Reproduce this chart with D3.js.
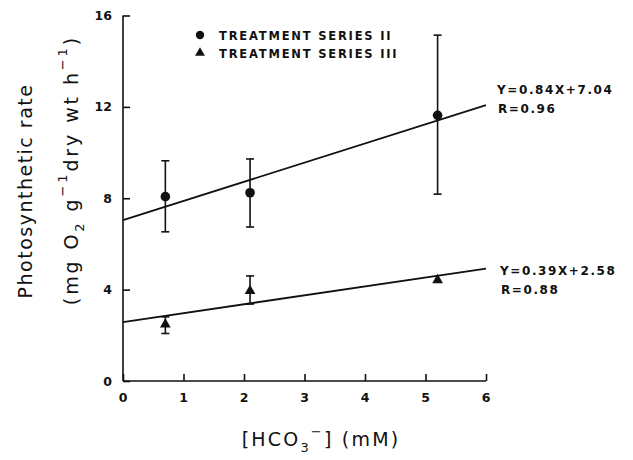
<!DOCTYPE html>
<html><head><meta charset="utf-8">
<script src="https://cdn.jsdelivr.net/npm/d3@7"></script>
<style>
body{margin:0;background:#fff;}
svg text{font-family:"DejaVu Sans","Liberation Sans",Arial,sans-serif;fill:#111;}
</style></head>
<body><svg id="c" width="633" height="460"></svg>
<script>
// Data
const xTicks = [0,1,2,3,4,5,6];
const yTicks = [0,4,8,12,16];
const seriesNames = ["TREATMENT SERIES II","TREATMENT SERIES III"];
const x2 = [0.7, 2.1, 5.2];
const y2 = [8.07, 8.24, 11.63];
const lo2 = [6.53, 6.74, 8.18];
const hi2 = [9.64, 9.72, 15.14];
const x3 = [0.7, 2.1, 5.2];
const y3 = [2.48, 3.94, 4.42];
const lo3 = [2.08, 3.37, 4.42];
const hi3 = [2.81, 4.6, 4.42];
const fitSlope = [0.84, 0.39];
const fitIntercept = [7.04, 2.58];
const fitLabels = [["Y=0.84X+7.04","R=0.96"],["Y=0.39X+2.58","R=0.88"]];

const svg = d3.select("#c");
const x = d3.scaleLinear().domain([0,6]).range([123,486]);
const y = d3.scaleLinear().domain([0,16]).range([381,15.5]);

// axes (ticks inward)
const gx = svg.append("g").attr("transform",`translate(0,${y(0)})`)
  .call(d3.axisTop(x).tickValues(xTicks).tickSize(7).tickFormat(""));
const gy = svg.append("g").attr("transform",`translate(${x(0)},0)`)
  .call(d3.axisRight(y).tickValues(yTicks).tickSize(7).tickFormat(""));
[gx,gy].forEach(g=>{g.selectAll("path,line").attr("stroke","#111").attr("stroke-width",1.6);});
gx.select(".domain").attr("d",`M${x(0)},0H${x(6)}`);
gy.select(".domain").attr("d",`M0,${y(0)}V${y(16)}`);

svg.append("g").selectAll("text").data(xTicks).join("text")
  .attr("x",d=>x(d)).attr("y",402).attr("text-anchor","middle")
  .attr("font-size",12.5).attr("font-weight","bold").text(d=>d);
svg.append("g").selectAll("text").data(yTicks).join("text")
  .attr("x",112).attr("y",d=>y(d)+4.5).attr("text-anchor","end")
  .attr("font-size",12.5).attr("font-weight","bold").text(d=>d);

// fit lines
fitSlope.forEach((m,i)=>{
  svg.append("line").attr("x1",x(0)).attr("y1",y(fitIntercept[i]))
    .attr("x2",x(6)).attr("y2",y(fitIntercept[i]+m*6))
    .attr("stroke","#111").attr("stroke-width",1.8);
});

// error bars
function errBars(xs,lo,hi,w){
  const g = svg.append("g").attr("stroke","#111").attr("stroke-width",1.6);
  xs.forEach((xv,i)=>{
    if(hi[i]-lo[i] <= 0) return;
    g.append("line").attr("x1",x(xv)).attr("x2",x(xv)).attr("y1",y(lo[i])).attr("y2",y(hi[i]));
    g.append("line").attr("x1",x(xv)-w).attr("x2",x(xv)+w).attr("y1",y(lo[i])).attr("y2",y(lo[i]));
    g.append("line").attr("x1",x(xv)-w).attr("x2",x(xv)+w).attr("y1",y(hi[i])).attr("y2",y(hi[i]));
  });
}
errBars(x2,lo2,hi2,4);
errBars(x3,lo3,hi3,4);

svg.append("g").selectAll("circle").data(x2).join("circle")
  .attr("cx",d=>x(d)).attr("cy",(d,i)=>y(y2[i])).attr("r",4.8).attr("fill","#111");
const tri = d3.symbol().type(d3.symbolTriangle).size(50);
svg.append("g").selectAll("path").data(x3).join("path")
  .attr("d",tri).attr("transform",(d,i)=>`translate(${x(d)},${y(y3[i])})`).attr("fill","#111");

// legend
svg.append("circle").attr("cx",200).attr("cy",35).attr("r",4.2).attr("fill","#111");
svg.append("path").attr("d",d3.symbol().type(d3.symbolTriangle).size(42)).attr("transform","translate(200,53)").attr("fill","#111");
seriesNames.forEach((s,i)=>{
  svg.append("text").attr("x",219).attr("y",39.5+i*18).attr("font-size",11.5)
    .attr("font-weight","bold").attr("letter-spacing",1.8).text(s);
});

// fit annotations
const annPos = [[497,94,113],[500,275,294]];
fitLabels.forEach((lab,i)=>{
  svg.append("text").attr("x",annPos[i][0]).attr("y",annPos[i][1]).attr("font-size",12)
    .attr("font-weight","bold").attr("letter-spacing",1.6).text(lab[0]);
  svg.append("text").attr("x",annPos[i][0]+1).attr("y",annPos[i][2]).attr("font-size",12)
    .attr("font-weight","bold").attr("letter-spacing",1.6).text(lab[1]);
});

// x title
const xt = svg.append("text").attr("x",321).attr("y",446).attr("text-anchor","middle")
  .attr("font-size",19).attr("letter-spacing",2.2);
xt.append("tspan").text("[HCO");
xt.append("tspan").attr("font-size",13).attr("dy",6).text("3");
xt.append("tspan").attr("font-size",13).attr("dy",-16).text("\u2212");
xt.append("tspan").attr("dy",10).text("] (mM)");

// y title
svg.append("text").attr("transform","translate(32,191) rotate(-90)")
  .attr("text-anchor","middle").attr("font-size",19).attr("letter-spacing",1.5).text("Photosynthetic rate");
const yt2 = svg.append("text").attr("transform","translate(78,170) rotate(-90)")
  .attr("text-anchor","middle").attr("font-size",19).attr("letter-spacing",2.9);
yt2.append("tspan").text("(mg O");
yt2.append("tspan").attr("font-size",13).attr("dy",6).text("2");
yt2.append("tspan").attr("dy",-6).text(" g");
yt2.append("tspan").attr("font-size",13).attr("dy",-11).text("\u22121");
yt2.append("tspan").attr("dy",11).text("dry wt h");
yt2.append("tspan").attr("font-size",13).attr("dy",-11).text("\u22121");
yt2.append("tspan").attr("dy",11).text(")");
</script></body></html>
